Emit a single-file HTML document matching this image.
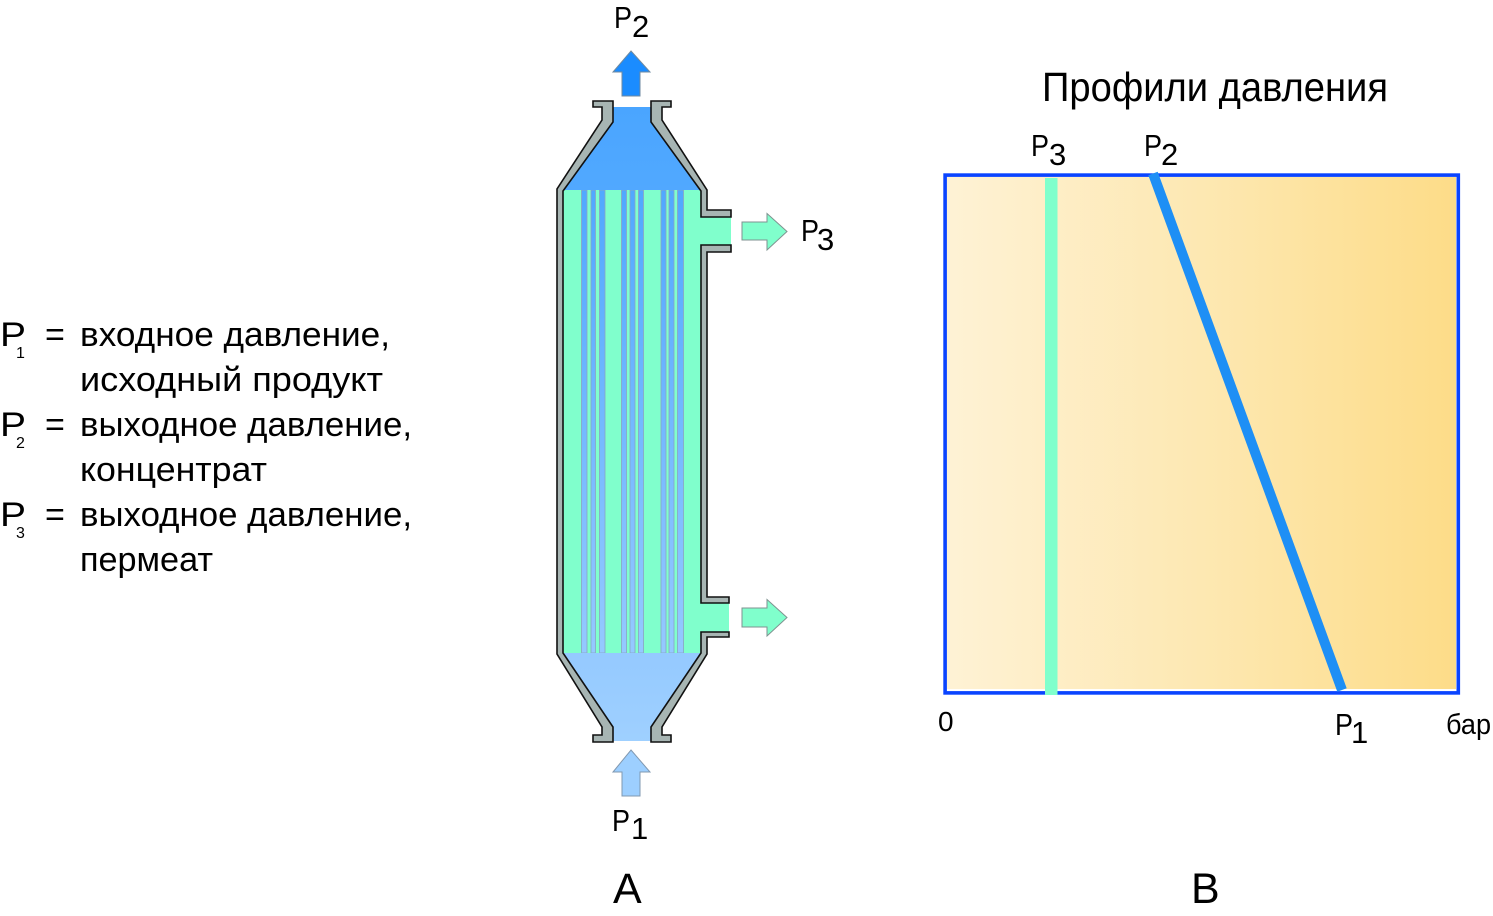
<!DOCTYPE html>
<html>
<head>
<meta charset="utf-8">
<style>
  html, body { margin:0; padding:0; background:#fff; }
  body { width:1493px; height:916px; overflow:hidden; }
  svg { display:block; }
  text { font-family: "Liberation Sans", "Noto Sans CJK SC", sans-serif; fill:#000; }
</style>
</head>
<body>
<svg width="1493" height="916" viewBox="0 0 1493 916" xmlns="http://www.w3.org/2000/svg">
  <defs>
    <linearGradient id="blueg" x1="0" y1="107" x2="0" y2="742" gradientUnits="userSpaceOnUse">
      <stop offset="0" stop-color="#4aa5ff"/>
      <stop offset="0.15" stop-color="#52a9ff"/>
      <stop offset="0.85" stop-color="#94c9ff"/>
      <stop offset="1" stop-color="#9fd0ff"/>
    </linearGradient>
    <linearGradient id="cream" x1="946" y1="0" x2="1457" y2="0" gradientUnits="userSpaceOnUse">
      <stop offset="0" stop-color="#fef2d5"/>
      <stop offset="0.5" stop-color="#fde8b2"/>
      <stop offset="1" stop-color="#fddc88"/>
    </linearGradient>
  </defs>

  <!-- ===== Legend ===== -->
  <g font-size="34">
    <text x="0" y="346" textLength="26" lengthAdjust="spacingAndGlyphs">P</text>
    <text x="16" y="358" font-size="16">1</text>
    <text x="45" y="346">=</text>
    <text x="80" y="346" textLength="310" lengthAdjust="spacingAndGlyphs">входное давление,</text>
    <text x="80" y="391" textLength="303" lengthAdjust="spacingAndGlyphs">исходный продукт</text>

    <text x="0" y="436" textLength="26" lengthAdjust="spacingAndGlyphs">P</text>
    <text x="16" y="448" font-size="16">2</text>
    <text x="45" y="436">=</text>
    <text x="80" y="436" textLength="332" lengthAdjust="spacingAndGlyphs">выходное давление,</text>
    <text x="80" y="481" textLength="187" lengthAdjust="spacingAndGlyphs">концентрат</text>

    <text x="0" y="526" textLength="26" lengthAdjust="spacingAndGlyphs">P</text>
    <text x="16" y="538" font-size="16">3</text>
    <text x="45" y="526">=</text>
    <text x="80" y="526" textLength="332" lengthAdjust="spacingAndGlyphs">выходное давление,</text>
    <text x="80" y="571" textLength="133" lengthAdjust="spacingAndGlyphs">пермеат</text>
  </g>

  <!-- ===== Vessel ===== -->
  <polygon fill="#80ffcc" points="563,190 701,190 701,217 731,217 731,245 701,245 701,603 729,603 729,632 701,632 701,653 563,653"/>
  <g fill="url(#blueg)" stroke="#8aa4c4" stroke-width="0.8">
    <rect x="581.5" y="190" width="5.5" height="463"/>
    <rect x="591" y="190" width="4.5" height="463"/>
    <rect x="599.5" y="190" width="5.5" height="463"/>
    <rect x="621.5" y="190" width="5" height="463"/>
    <rect x="630" y="190" width="5" height="463"/>
    <rect x="638.5" y="190" width="5" height="463"/>
    <rect x="661" y="190" width="5" height="463"/>
    <rect x="669" y="190" width="5" height="463"/>
    <rect x="677.5" y="190" width="6" height="463"/>
  </g>
  <polygon fill="url(#blueg)" points="613,107 651,107 651,122 701,190 563,190 613,122"/>
  <polygon fill="url(#blueg)" points="563,653 701,653 651,727 651,741 613,741 613,727"/>

  <g fill="#a7b5b3" stroke="#111" stroke-width="1.6" stroke-linejoin="miter">
    <polygon points="593,101 613,101 613,122 563,191 563,653 613,727 613,742 593,742 593,735 602,735 602,727 557,654 557,189 602,120 602,107 593,107"/>
    <polygon points="651,101 671,101 671,107 662,107 662,120 707,190 707,210 731,210 731,217 701,217 701,191 651,122"/>
    <polygon points="701,245 731,245 731,252 707,252 707,597 729,597 729,603 701,603"/>
    <polygon points="701,632 729,632 729,637 707,637 707,654 662,727 662,735 671,735 671,742 651,742 651,727 701,653"/>
  </g>

  <!-- arrows -->
  <polygon fill="#1b8cff" stroke="#6f8aa0" stroke-width="1" points="631,51 650,72 640,72 640,96 622,96 622,72 613,72"/>
  <polygon fill="#9dcfff" stroke="#8098b0" stroke-width="1" points="631,750 650,772 640,772 640,796 622,796 622,772 613,772"/>
  <polygon fill="#80ffcc" stroke="#7f9290" stroke-width="1" points="742,222 767,222 767,213.5 787,231.5 767,250 767,240 742,240"/>
  <polygon fill="#80ffcc" stroke="#7f9290" stroke-width="1" points="742,608 767,608 767,599.5 787,617.5 767,636 767,627 742,627"/>

  <!-- vessel labels -->
  <g font-size="31">
    <text x="614" y="28" textLength="18" lengthAdjust="spacingAndGlyphs">P</text>
    <text x="632" y="37">2</text>
    <text x="801" y="241" textLength="18" lengthAdjust="spacingAndGlyphs">P</text>
    <text x="817" y="250">3</text>
    <text x="612" y="831" textLength="18" lengthAdjust="spacingAndGlyphs">P</text>
    <text x="631" y="839">1</text>
  </g>
  <text x="613" y="903" font-size="43">A</text>

  <!-- ===== Chart ===== -->
  <text x="1042" y="101" font-size="41" textLength="346" lengthAdjust="spacingAndGlyphs">Профили давления</text>

  <rect x="946" y="177" width="510" height="512" fill="url(#cream)"/>
  <rect x="945.1" y="175.1" width="513.2" height="517.8" fill="none" stroke="#0a44ff" stroke-width="3.6"/>
  <rect x="1045" y="178" width="12.5" height="517" fill="#80ffcc"/>
  <line x1="1153" y1="173.5" x2="1342" y2="690" stroke="#1e8ff5" stroke-width="10"/>

  <g font-size="31">
    <text x="1031" y="156" textLength="18" lengthAdjust="spacingAndGlyphs">P</text>
    <text x="1049" y="165">3</text>
    <text x="1144" y="156" textLength="18" lengthAdjust="spacingAndGlyphs">P</text>
    <text x="1161" y="165">2</text>
    <text x="1335" y="735" textLength="18" lengthAdjust="spacingAndGlyphs">P</text>
    <text x="1351" y="743">1</text>
  </g>
  <text x="938" y="731" font-size="28">0</text>
  <text x="1446" y="734" font-size="29" textLength="45" lengthAdjust="spacingAndGlyphs">бар</text>
  <text x="1191" y="903" font-size="43">B</text>
</svg>
</body>
</html>
